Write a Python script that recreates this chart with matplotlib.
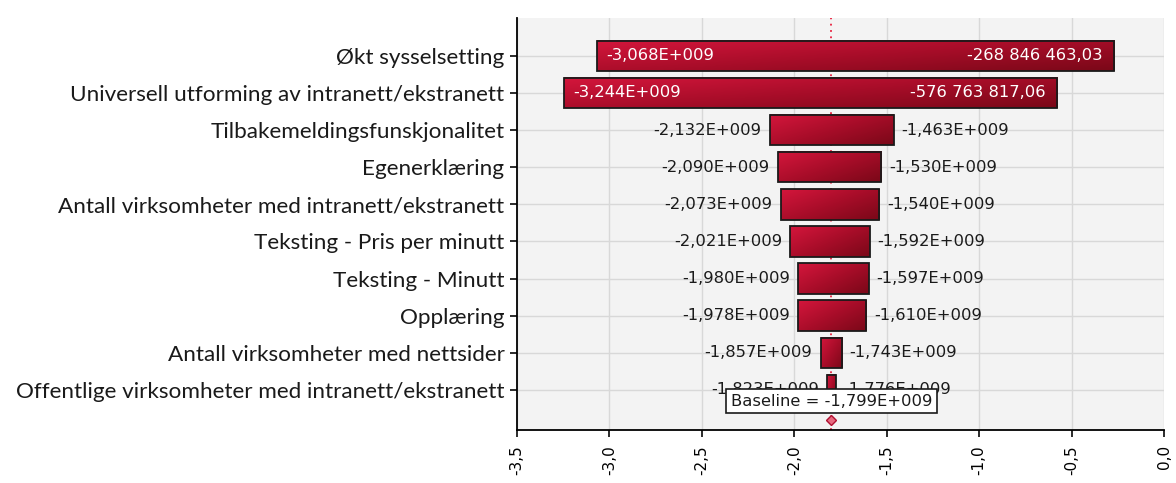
import numpy as np
import matplotlib
matplotlib.use("Agg")
import matplotlib.pyplot as plt
from matplotlib.colors import LinearSegmentedColormap
from matplotlib.patches import Rectangle

# data (kroner)
categories = [
    "Økt sysselsetting",
    "Universell utforming av intranett/ekstranett",
    "Tilbakemeldingsfunskjonalitet",
    "Egenerklæring",
    "Antall virksomheter med intranett/ekstranett",
    "Teksting - Pris per minutt",
    "Teksting - Minutt",
    "Opplæring",
    "Antall virksomheter med nettsider",
    "Offentlige virksomheter med intranett/ekstranett",
]
low_values = [-3.068e9, -3.244e9, -2.132e9, -2.090e9, -2.073e9,
              -2.021e9, -1.980e9, -1.978e9, -1.857e9, -1.823e9]
high_values = [-268846463.03, -576763817.06, -1.463e9, -1.530e9, -1.540e9,
               -1.592e9, -1.597e9, -1.610e9, -1.743e9, -1.776e9]
baseline = -1.799e9
xticks = [-3.5, -3.0, -2.5, -2.0, -1.5, -1.0, -0.5, 0.0]
inside_labels = [True, True, False, False, False, False, False, False, False, False]


def fmt(v):
    if abs(v) >= 1e9:
        return f"{v / 1e9:.3f}".replace(".", ",") + "E+009"
    s = f"{v:,.2f}"
    return s.replace(",", " ").replace(".", ",")


label_font = "Lato"
num_font = "DejaVu Sans"
num_size = 11.8

fig = plt.figure(figsize=(11.76, 4.83), dpi=100)
ax = fig.add_axes([0.4396, 0.1097, 0.5502, 0.8530])
ax.set_facecolor("#f3f3f3")

bar_cmap = LinearSegmentedColormap.from_list("bar", ["#d4163c", "#a80d29", "#7a0818"])
gx, gy = np.meshgrid(np.linspace(0, 1, 200), np.linspace(0, 1, 40))
grad = 0.55 * gx + 0.45 * gy

h = 0.82
lo = np.array(low_values) / 1e9
hi = np.array(high_values) / 1e9
base = baseline / 1e9

ax.axvline(base, color="#e8203e", linestyle=(0, (1, 2.5)), linewidth=1.3, zorder=1)

for i in range(len(categories)):
    x0, x1 = lo[i], hi[i]
    ax.imshow(grad, cmap=bar_cmap, aspect="auto", extent=(x0, x1, i + h / 2, i - h / 2),
              zorder=2, interpolation="bilinear")
    ax.add_patch(Rectangle((x0, i - h / 2), x1 - x0, h, fill=False,
                           edgecolor="#1a1a1a", linewidth=1.3, zorder=3))
    if inside_labels[i]:
        ax.annotate(fmt(low_values[i]), (x0, i), xytext=(6.5, 0), textcoords="offset points",
                    ha="left", va="center", color="white", fontsize=num_size,
                    family=num_font, zorder=4)
        ax.annotate(fmt(high_values[i]), (x1, i), xytext=(-8.5, 0), textcoords="offset points",
                    ha="right", va="center", color="white", fontsize=num_size,
                    family=num_font, zorder=4)
    else:
        ax.annotate(fmt(low_values[i]), (x0, i), xytext=(-6, 0), textcoords="offset points",
                    ha="right", va="center", color="#1a1a1a", fontsize=num_size,
                    family=num_font, zorder=4)
        ax.annotate(fmt(high_values[i]), (x1, i), xytext=(5.5, 0), textcoords="offset points",
                    ha="left", va="center", color="#1a1a1a", fontsize=num_size,
                    family=num_font, zorder=4)

# baseline box and marker (covers the last row's labels, as in the original)
ax.annotate(f"Baseline = {fmt(baseline)}", (base, 9.3), ha="center", va="center",
            fontsize=num_size, family=num_font, color="#1a1a1a", zorder=6,
            bbox=dict(boxstyle="square,pad=0.3", facecolor="white", edgecolor="#1a1a1a", linewidth=1.2))
ax.plot([base], [9.82], marker="D", markersize=5, color="#e86a80",
        markeredgecolor="#b01030", zorder=6, clip_on=False)

ax.set_xlim(-3.5, 0.0)
ax.set_ylim(len(categories) - 1 + 1.08, -1.02)
ax.set_xticks(xticks)
ax.set_xticklabels([f"{t:.1f}".replace(".", ",") for t in xticks], rotation=90,
                   family=num_font, fontsize=11)
ax.set_yticks(range(len(categories)))
ax.set_yticklabels(categories, family=label_font, fontsize=16.2, color="#1a1a1a")
ax.tick_params(axis="both", length=5, width=1.3, color="#1a1a1a")
ax.tick_params(axis="x", pad=6)
ax.tick_params(axis="y", pad=4)

ax.grid(True, color="#d8d8d8", linewidth=1.0, zorder=0)
ax.set_axisbelow(True)
for side in ["top", "right"]:
    ax.spines[side].set_visible(False)
ax.spines["left"].set_linewidth(1.3)
ax.spines["bottom"].set_linewidth(1.3)

fig.savefig("out.png", dpi=100)
